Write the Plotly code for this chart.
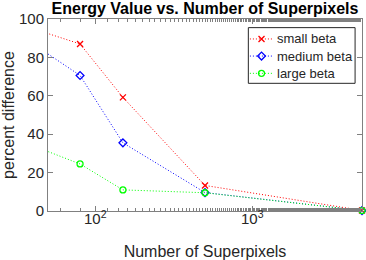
import math
import plotly.graph_objects as go

x_vals = [25, 80, 150, 500, 5000]
small_beta = [100.4, 87, 59.2, 13.3, 0.3]
medium_beta = [98.3, 70.6, 35.5, 9.6, 0.2]
large_beta = [40.5, 24.5, 11, 9.5, 0.2]
series_names = ["small beta", "medium beta", "large beta"]
tick_vals_x = [100, 1000]
tick_text_x = ["10<sup>2</sup>", "10<sup>3</sup>"]
tick_vals_y = [0, 20, 40, 60, 80, 100]

X_MIN, X_MAX = 50, 5000
FONT = "Liberation Sans, Arial, sans-serif"
DOT = "1px,2px"

styles = [
    ("#ff0000", "x-thin-open", 6),
    ("#0000ff", "diamond-open", 6),
    ("#00ff00", "circle-open", 6),
]

fig = go.Figure()
for name, ys, (col, sym, sz) in zip(series_names, [small_beta, medium_beta, large_beta], styles):
    mk = dict(symbol=sym, size=sz, color=col, line=dict(color=col, width=1.3))
    fig.add_trace(go.Scatter(
        x=x_vals, y=ys, name=name, mode="lines",
        line=dict(color=col, width=1, dash=DOT),
        cliponaxis=True, showlegend=False,
    ))
    xi = [x for x in x_vals if X_MIN <= x <= X_MAX]
    yi = [y for x, y in zip(x_vals, ys) if X_MIN <= x <= X_MAX]
    fig.add_trace(go.Scatter(x=xi, y=yi, mode="markers", marker=mk, name=name,
                             cliponaxis=False, showlegend=False))

# hand-built legend (MATLAB style): box, dotted sample line, marker, label
leg_left, leg_right, leg_top, leg_bottom = 0.638, 0.978, 0.955, 0.665
row_y = [0.896, 0.807, 0.717]
seg_x0, seg_x1, mark_x, text_x = 0.643, 0.717, 0.680, 0.722
fig.add_shape(type="rect", xref="paper", yref="paper",
              x0=leg_left, x1=leg_right, y0=leg_bottom, y1=leg_top,
              line=dict(color="#262626", width=1), fillcolor="white", layer="below")
for name, ry, (col, sym, sz) in zip(series_names, row_y, styles):
    fig.add_shape(type="line", xref="paper", yref="paper",
                  x0=seg_x0, x1=seg_x1, y0=ry, y1=ry,
                  line=dict(color=col, width=1, dash=DOT), layer="below")
    fig.add_trace(go.Scatter(x=[mark_x], y=[ry], xaxis="x2", yaxis="y2", mode="markers",
                             marker=dict(symbol=sym, size=sz, color=col, line=dict(color=col, width=1.3)),
                             showlegend=False, cliponaxis=False))
    fig.add_annotation(x=text_x, y=ry, xref="paper", yref="paper", text=name,
                       showarrow=False, xanchor="left", yanchor="middle",
                       font=dict(family=FONT, size=13, color="#262626"))

axis_common = dict(
    showline=True, linecolor="#808080", linewidth=1, mirror="ticks",
    ticks="inside", ticklen=5, tickcolor="#808080",
    showgrid=False, zeroline=False, automargin=False,
    tickfont=dict(family=FONT, size=15, color="#262626"),
)

fig.update_layout(
    width=366, height=260,
    margin=dict(l=48, r=4, t=19, b=49),
    paper_bgcolor="white", plot_bgcolor="white",
    hovermode=False,
    title=dict(text="<b>Energy Value vs. Number of Superpixels</b>",
               xref="paper", x=0.5, xanchor="center", y=0.968, yanchor="middle",
               font=dict(family=FONT, size=16, color="black")),
    font=dict(family=FONT, color="#262626"),
    xaxis=dict(type="log", range=[math.log10(X_MIN), math.log10(X_MAX)],
               tickvals=tick_vals_x, ticktext=tick_text_x, ticklabelstandoff=-6,
               minor=dict(ticks="inside", ticklen=3, tickcolor="#808080", showgrid=False),
               title=dict(text="Number of Superpixels", font=dict(family=FONT, size=16, color="#262626"), standoff=19),
               **axis_common),
    yaxis=dict(range=[0, 100], tickvals=tick_vals_y,
               title=dict(text="percent difference", font=dict(family=FONT, size=16, color="#262626"), standoff=5),
               **axis_common),
    xaxis2=dict(overlaying="x", range=[0, 1], visible=False, fixedrange=True),
    yaxis2=dict(overlaying="y", range=[0, 1], visible=False, fixedrange=True),
    showlegend=False,
)

fig.write_html("out.html", config={"displayModeBar": False},
               post_script="document.body.style.margin='0';")
